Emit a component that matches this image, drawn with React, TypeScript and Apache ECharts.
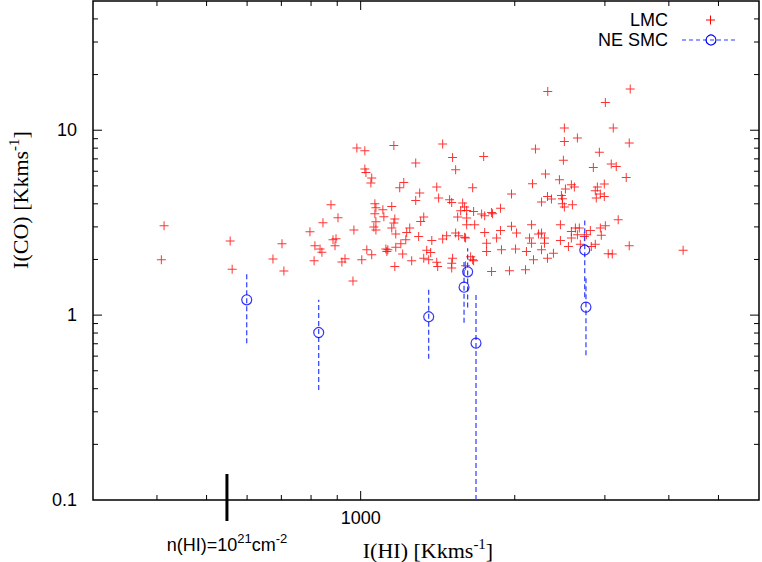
import React, { useEffect, useRef } from "react";
import * as echarts from "echarts";

// LMC: I(HI) [K km/s] and I(CO) [K km/s]
const lmcHI = [413,408,556,561,702,674,708,875,903,844,796,814,833,840,883,895,891,811,932,919,966,970,1005,1028,1051,1066,1071,1105,1150,1066,1110,1071,1061,1071,1120,1130,1125,983,1019,1161,1446,1512,1281,1533,1019,1024,1051,1047,1214,1192,1304,1408,1420,1281,1492,1506,1582,1596,1568,1547,1328,1166,1310,1611,1161,1150,1247,1230,1171,1298,1377,1446,1472,1533,1554,1596,1225,1198,1171,1208,1346,1370,1328,1358,1258,1512,1506,1408,1414,1506,1166,1739,2195,2500,2651,2489,2296,2166,2445,2580,2615,2512,1655,1971,2317,2359,2256,2467,2478,2478,2592,2500,1876,1802,1662,1747,1723,1611,1810,1611,1670,1971,1876,2016,2157,2456,2627,2580,2651,2580,2456,2256,2225,2286,2137,2286,2157,1603,1747,1843,1762,1762,1884,2007,2108,2256,2380,2546,2317,2176,1640,1662,1802,1953,2099,3362,3006,3115,3347,2926,2848,3087,3157,3302,2992,2900,2873,2939,2992,2886,3185,3006,2939,2810,2952,2760,2735,2674,2873,2822,2686,3347,3045,3101,4265,2320,2500,1603,1655];
const lmcCO = [3.04,1.99,2.52,1.77,2.43,2.01,1.73,3.95,3.36,3.16,2.82,2.37,2.28,2.19,2.56,2.59,2.37,1.97,2.02,1.94,1.53,2.89,1.99,2.26,2.12,4.00,3.81,3.71,3.87,3.53,3.40,3.20,3.00,2.89,2.28,2.26,2.21,8.01,7.74,8.28,8.42,7.13,6.65,6.11,6.17,5.91,5.51,5.18,5.22,4.88,4.57,4.93,4.30,4.17,4.21,4.07,4.04,3.84,3.67,3.39,3.39,3.31,3.21,3.08,3.15,2.96,2.96,2.80,2.75,2.66,2.53,2.58,2.69,2.78,2.69,2.64,2.56,2.43,2.33,2.14,2.24,2.18,2.03,1.99,1.97,2.03,1.91,1.93,1.83,1.80,1.83,7.22,7.91,8.70,9.08,6.87,5.79,5.13,5.40,5.07,4.93,4.81,4.88,4.52,4.38,4.24,4.09,4.44,4.26,4.00,3.95,3.84,3.79,3.59,3.64,3.45,3.52,3.68,3.53,3.35,3.08,3.02,2.87,2.78,3.08,3.08,2.96,2.83,2.72,2.61,2.53,2.78,2.75,2.61,2.61,2.45,2.45,2.61,2.80,2.61,2.45,2.21,2.26,2.28,2.21,2.26,2.16,2.35,2.03,1.99,2.07,1.97,1.72,1.74,1.76,16.71,14.14,10.28,8.53,7.59,6.29,6.56,6.37,5.55,5.12,4.93,4.71,4.52,4.38,4.30,3.28,3.04,2.96,2.87,2.70,2.72,2.66,2.96,2.42,2.35,2.42,2.37,2.15,2.14,2.24,16.22,10.28,1.85,1.99];

// NE SMC with error bars
const smcHI = [599, 828, 1358, 1592, 1618, 1680, 2740, 2755];
const smcCO = [1.21, 0.805, 0.98, 1.416, 1.715, 0.705, 2.25, 1.105];
const smcCOLow = [0.705, 0.394, 0.58, 0.91, 1.10, 0.1, 1.25, 0.607];
const smcCOHigh = [1.72, 1.21, 1.387, 1.94, 2.30, 1.30, 3.25, 1.6];

// axes
const xMin = 300;
const xMax = 6000;
const yMin = 0.1;
const yMax = 50;
const xMajorTicks = [1000];
const xMinorTicks = [400, 500, 600, 700, 800, 900, 2000, 3000, 4000, 5000];
const yMajorTicks = [1, 10];
const yMinorTicks = [0.2, 0.3, 0.4, 0.5, 0.6, 0.7, 0.8, 0.9, 2, 3, 4, 5, 6, 7, 8, 9, 20, 30, 40];
const xTickLabels = [1000];
const yTickLabels = [0.1, 1, 10];
const nHIMarker = [548];

const SANS = "'Liberation Sans', Arial, sans-serif";
const SERIF = "'Liberation Serif', 'Times New Roman', serif";
const RED = "#ff0000";
const BLUE = "#0000ff";
const DASH_BLUE = "#2a3cff";

const fmt = (list: number[]) => (v: number) => {
  const hit = list.find((t) => Math.abs(t - v) / t < 1e-6);
  return hit === undefined ? "" : String(hit);
};

const tickSeries = (vals: number[], dir: "x" | "y", len: number) => ({
  type: "custom",
  silent: true,
  z: 10,
  clip: false,
  data: vals.map((v) => (dir === "x" ? [v, 1] : [1000, v])),
  renderItem: (params: any, api: any) => {
    const cs = params.coordSys;
    const p = api.coord([api.value(0), api.value(1)]);
    const st = { stroke: "#000", lineWidth: 1 };
    if (dir === "x") {
      const b = cs.y + cs.height;
      return {
        type: "group",
        children: [
          { type: "line", shape: { x1: p[0], y1: b, x2: p[0], y2: b - len }, style: st },
          { type: "line", shape: { x1: p[0], y1: cs.y, x2: p[0], y2: cs.y + len }, style: st },
        ],
      };
    }
    const r = cs.x + cs.width;
    return {
      type: "group",
      children: [
        { type: "line", shape: { x1: cs.x, y1: p[1], x2: cs.x + len, y2: p[1] }, style: st },
        { type: "line", shape: { x1: r, y1: p[1], x2: r - len, y2: p[1] }, style: st },
      ],
    };
  },
});

const supText = (main: string, sup: string, tail: string) => `{a|${main}}{b|${sup}}{a|${tail}}`;

export default function App() {
  const ref = useRef<HTMLDivElement>(null);
  useEffect(() => {
    if (!ref.current) return;
    const chart = echarts.init(ref.current, undefined, { renderer: "svg" });
    const titleRich = {
      a: { fontFamily: SERIF, fontSize: 22, lineHeight: 28, fill: "#000" },
      b: { fontFamily: SERIF, fontSize: 15, lineHeight: 16, verticalAlign: "top", fill: "#000" },
    };
    chart.setOption({
      animation: false,
      backgroundColor: "#fff",
      grid: {
        left: 93,
        right: 1,
        top: 1,
        bottom: 62,
        show: true,
        borderColor: "#000",
        borderWidth: 1.5,
        backgroundColor: "transparent",
      },
      xAxis: {
        type: "log",
        logBase: 10,
        min: xMin,
        max: xMax,
        axisLine: { show: false },
        axisTick: { show: false },
        splitLine: { show: false },
        axisLabel: {
          margin: 9,
          fontSize: 18,
          fontFamily: SANS,
          color: "#000",
          formatter: fmt(xTickLabels),
        },
      },
      yAxis: {
        type: "log",
        logBase: 10,
        min: yMin,
        max: yMax,
        axisLine: { show: false },
        axisTick: { show: false },
        splitLine: { show: false },
        axisLabel: {
          margin: 16,
          fontSize: 18,
          fontFamily: SANS,
          color: "#000",
          formatter: fmt(yTickLabels),
        },
      },
      series: [
        tickSeries(xMajorTicks, "x", 9),
        tickSeries(xMinorTicks, "x", 5),
        tickSeries(yMajorTicks, "y", 9),
        tickSeries(yMinorTicks, "y", 5),
        {
          type: "custom",
          silent: true,
          z: 11,
          clip: false,
          data: nHIMarker.map((v) => [v, yMin]),
          renderItem: (params: any, api: any) => {
            const p = api.coord([api.value(0), api.value(1)]);
            return {
              type: "group",
              children: [
                {
                  type: "line",
                  shape: { x1: p[0], y1: p[1] - 26, x2: p[0], y2: p[1] + 21 },
                  style: { stroke: "#000", lineWidth: 3 },
                },
                {
                  type: "text",
                  x: p[0],
                  y: p[1] + 45,
                  style: {
                    text: "{a|n(HI)=10}{b|21}{a|cm}{b|-2}",
                    align: "center",
                    verticalAlign: "middle",
                    rich: {
                      a: { fontFamily: SANS, fontSize: 18, lineHeight: 26, fill: "#000" },
                      b: { fontFamily: SANS, fontSize: 13, lineHeight: 14, verticalAlign: "top", fill: "#000" },
                    },
                  },
                },
              ],
            };
          },
        },
        {
          name: "LMC",
          type: "scatter",
          z: 3,
          symbol: "path://M4,0H5V4H9V5H5V9H4V5H0V4H4Z",
          symbolSize: 9,
          itemStyle: { color: RED },
          data: lmcHI.map((x, i) => [x, lmcCO[i]]),
        },
        {
          type: "custom",
          z: 4,
          silent: true,
          encode: { x: 0, y: [1, 2, 3] },
          data: smcHI.map((x, i) => [x, smcCO[i], smcCOLow[i], smcCOHigh[i]]),
          renderItem: (params: any, api: any) => {
            const a = api.coord([api.value(0), api.value(2)]);
            const b = api.coord([api.value(0), api.value(3)]);
            return {
              type: "line",
              shape: { x1: a[0], y1: a[1], x2: b[0], y2: b[1] },
              style: { stroke: DASH_BLUE, lineWidth: 1.2, lineDash: [5, 3] },
            };
          },
        },
        {
          name: "NE SMC",
          type: "scatter",
          z: 5,
          symbol: "circle",
          symbolSize: 10,
          itemStyle: { color: "rgba(255,255,255,0)", borderColor: BLUE, borderWidth: 1.2 },
          data: smcHI.map((x, i) => [x, smcCO[i]]),
        },
      ],
      graphic: [
        {
          type: "text",
          x: 428,
          y: 550,
          style: { text: supText("I(HI) [Kkms", "-1", "]"), align: "center", verticalAlign: "middle", rich: titleRich },
        },
        {
          type: "text",
          x: 20,
          y: 200,
          rotation: Math.PI / 2,
          style: { text: supText("I(CO) [Kkms", "-1", "]"), align: "center", verticalAlign: "middle", rich: titleRich },
        },
        {
          type: "text",
          x: 668,
          y: 20,
          style: { text: "LMC", align: "right", verticalAlign: "middle", fontFamily: SANS, fontSize: 18, fill: "#000" },
        },
        { type: "line", shape: { x1: 706, y1: 20, x2: 715, y2: 20 }, style: { stroke: RED, lineWidth: 1 } },
        { type: "line", shape: { x1: 710.5, y1: 15.5, x2: 710.5, y2: 24.5 }, style: { stroke: RED, lineWidth: 1 } },
        {
          type: "text",
          x: 668,
          y: 40,
          style: { text: "NE SMC", align: "right", verticalAlign: "middle", fontFamily: SANS, fontSize: 18, fill: "#000" },
        },
        {
          type: "line",
          shape: { x1: 682, y1: 40, x2: 735, y2: 40 },
          style: { stroke: DASH_BLUE, lineWidth: 1.2, lineDash: [4, 3] },
        },
        {
          type: "circle",
          shape: { cx: 711, cy: 40, r: 5 },
          style: { fill: "none", stroke: BLUE, lineWidth: 1.2 },
        },
      ],
    });
    return () => chart.dispose();
  }, []);
  return <div ref={ref} style={{ position: "fixed", left: 0, top: 0, width: 762, height: 562 }} />;
}
